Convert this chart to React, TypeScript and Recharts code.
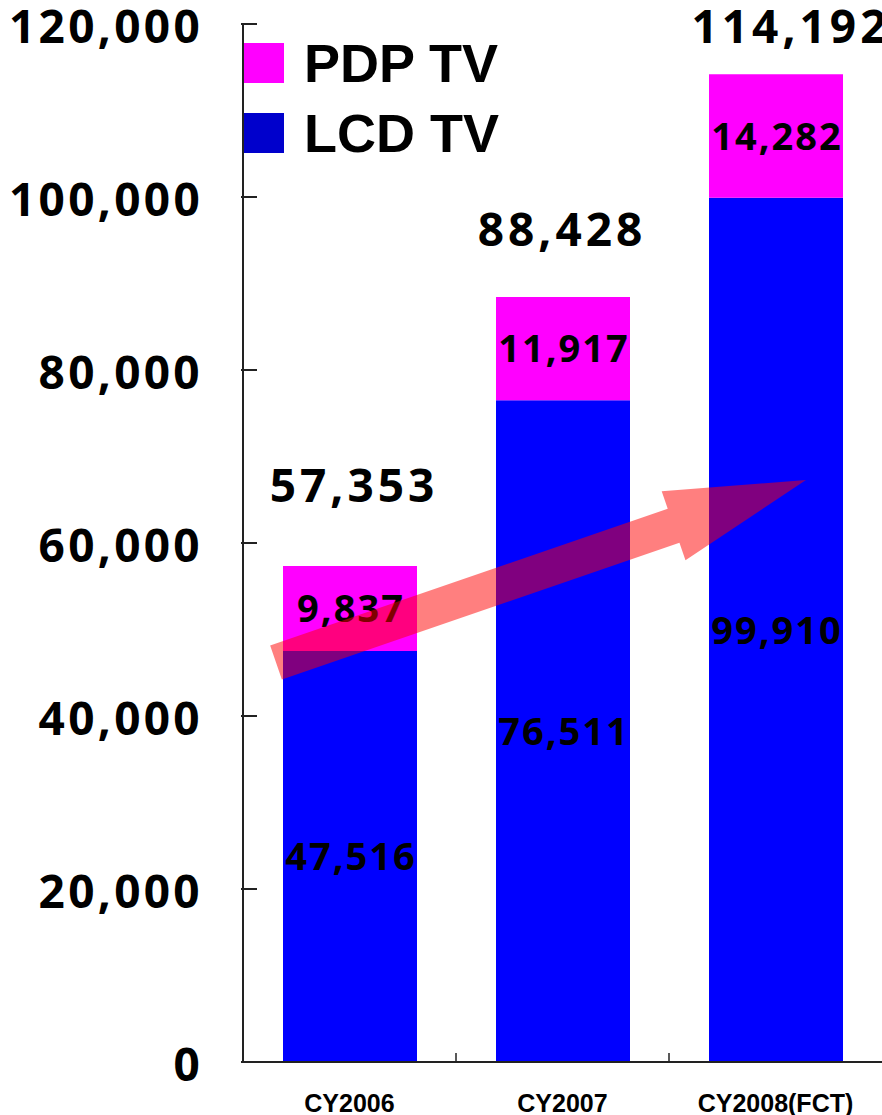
import React from 'react';
import { Bar, BarChart, LabelList, Legend, ReferenceLine, XAxis, YAxis } from 'recharts';

const years = ['CY2006', 'CY2007', 'CY2008(FCT)'];
const lcdTv = [47516, 76511, 99910];
const pdpTv = [9837, 11917, 14282];
const yTicks = [0, 20000, 40000, 60000, 80000, 100000, 120000];

// growth arrow: anchored at the first and last year, value on the y scale,
// reach = how far past the bar centre it runs, in category widths
const arrowFrom = { year: 'CY2006', value: 49100, reach: -0.345 };
const arrowTo = { year: 'CY2008(FCT)', value: 66060, reach: 0.143 };

const data = years.map((year, i) => ({
    year,
    lcd: lcdTv[i],
    pdp: pdpTv[i],
    total: lcdTv[i] + pdpTv[i]
}));

// hand placement of the total labels above each stack
const totalLift = [80, 68, 48];
const totalShift = [4, -1, 15];

const legendColors: Record<string, string> = { lcd: '#0000cc', pdp: '#ff00ff' };

const numFont = '"Noto Sans", "DejaVu Sans", sans-serif';
const fmt = (v: number) => v.toLocaleString('en-US');

function YTick({ x, y, payload }: any) {
    return (
        <g>
            <line x1={x} x2={x + 16} y1={y} y2={y} stroke="#222" strokeWidth={2} />
            <text x={x - 38} y={y + 19} textAnchor="end" fontFamily={numFont} fontWeight="bold" fontSize={46} letterSpacing={3.3} fill="#000">
                {fmt(payload.value)}
            </text>
        </g>
    );
}

function XTick({ x, y, payload }: any) {
    return (
        <text x={x} y={y + 47.5} textAnchor="middle" fontFamily='"Liberation Sans", Arial, sans-serif' fontWeight="bold" fontSize={25} fill="#000">
            {payload.value}
        </text>
    );
}

function InnerLabel({ x, y, width, height, value }: any) {
    const fs = 38;
    return (
        <text x={x + width / 2 + 1} y={y + height / 2 + fs * 0.36} textAnchor="middle" fontFamily={numFont} fontWeight="bold" fontSize={fs} letterSpacing={2} fill="#000">
            {fmt(value)}
        </text>
    );
}

function TotalLabel({ x, y, width, value, index }: any) {
    const fs = 46;
    return (
        <text x={x + width / 2 + totalShift[index]} y={y - totalLift[index] + fs * 0.36} textAnchor="middle" fontFamily={numFont} fontWeight="bold" fontSize={fs} letterSpacing={4} fill="#000">
            {fmt(value)}
        </text>
    );
}

// small inward tick halfway between two neighbouring category centres
function EdgeTick({ x1, x2, y1, y2 }: any) {
    const mid = (x1 + x2) / 2;
    const base = Math.max(y1, y2);
    return <line x1={mid} x2={mid} y1={base} y2={base - 9} stroke="#222" strokeWidth={1.5} />;
}

function ArrowShape({ x1, y1, x2, y2 }: any) {
    // segment spans two category widths
    const dx = x2 - x1;
    const dy = y2 - y1;
    const k0 = arrowFrom.reach / 2;
    const k1 = arrowTo.reach / 2;
    const tx = x1 + dx * k0;
    const ty = y1 + dy * k0;
    const hx = x2 + dx * k1;
    const hy = y2 + dy * k1;
    const len = Math.hypot(hx - tx, hy - ty);
    const ux = (hx - tx) / len;
    const uy = (hy - ty) / len;
    const nx = -uy;
    const ny = ux;
    const shaft = 18;
    const headW = 36.5;
    const headL = 140;
    const bx = hx - ux * headL;
    const by = hy - uy * headL;
    const pts = [
        [tx + nx * shaft, ty + ny * shaft],
        [bx + nx * shaft, by + ny * shaft],
        [bx + nx * headW, by + ny * headW],
        [hx, hy],
        [bx - nx * headW, by - ny * headW],
        [bx - nx * shaft, by - ny * shaft],
        [tx - nx * shaft, ty - ny * shaft]
    ];
    return <polygon points={pts.map((p) => p.join(',')).join(' ')} fill="#ff0000" fillOpacity={0.5} />;
}

function LegendBox({ payload }: any) {
    const items = [...(payload ?? [])].reverse();
    return (
        <div style={{ display: 'flex', flexDirection: 'column', gap: 30 }}>
            {items.map((item: any) => (
                <div key={item.value} style={{ display: 'flex', alignItems: 'center', height: 40 }}>
                    <div style={{ width: 40, height: 40, background: legendColors[item.dataKey] }} />
                    <span
                        style={{
                            marginLeft: 20,
                            fontFamily: '"Liberation Sans", Arial, sans-serif',
                            fontWeight: 'bold',
                            fontSize: 54,
                            lineHeight: '40px',
                            color: '#000'
                        }}
                    >
                        {item.value}
                    </span>
                </div>
            ))}
        </div>
    );
}

export default function App(): React.JSX.Element {
    return (
        <div style={{ position: 'absolute', left: 0, top: 0, background: '#fff' }}>
            <BarChart width={882} height={1115} data={data} margin={{ top: 24, right: 0, bottom: 0, left: 10 }}>
                <XAxis
                    dataKey="year"
                    height={53}
                    tickLine={false}
                    tickSize={0}
                    axisLine={{ stroke: '#222', strokeWidth: 2 }}
                    tick={<XTick />}
                    interval={0}
                />
                <YAxis
                    width={233}
                    domain={[0, 120000]}
                    ticks={yTicks}
                    interval={0}
                    tickLine={false}
                    tickSize={0}
                    axisLine={{ stroke: '#222', strokeWidth: 2 }}
                    tick={<YTick />}
                />
                <Legend
                    layout="vertical"
                    align="center"
                    verticalAlign="middle"
                    content={<LegendBox />}
                    wrapperStyle={{ left: 244, top: 43, width: 320 }}
                />
                <Bar dataKey="lcd" name="LCD TV" stackId="tv" fill="#0000ff" barSize={134} isAnimationActive={false}>
                    <LabelList dataKey="lcd" content={<InnerLabel />} />
                </Bar>
                <Bar dataKey="pdp" name="PDP TV" stackId="tv" fill="#ff00ff" barSize={134} isAnimationActive={false}>
                    <LabelList dataKey="pdp" content={<InnerLabel />} />
                    <LabelList dataKey="total" content={<TotalLabel />} />
                </Bar>
                {years.slice(1).map((year, i) => (
                    <ReferenceLine
                        key={year}
                        segment={[
                            { x: years[i], y: 0 },
                            { x: year, y: 0 }
                        ]}
                        shape={<EdgeTick />}
                    />
                ))}
                <ReferenceLine
                    segment={[
                        { x: arrowFrom.year, y: arrowFrom.value },
                        { x: arrowTo.year, y: arrowTo.value }
                    ]}
                    shape={<ArrowShape />}
                    zIndex={2100}
                />
            </BarChart>
        </div>
    );
}
